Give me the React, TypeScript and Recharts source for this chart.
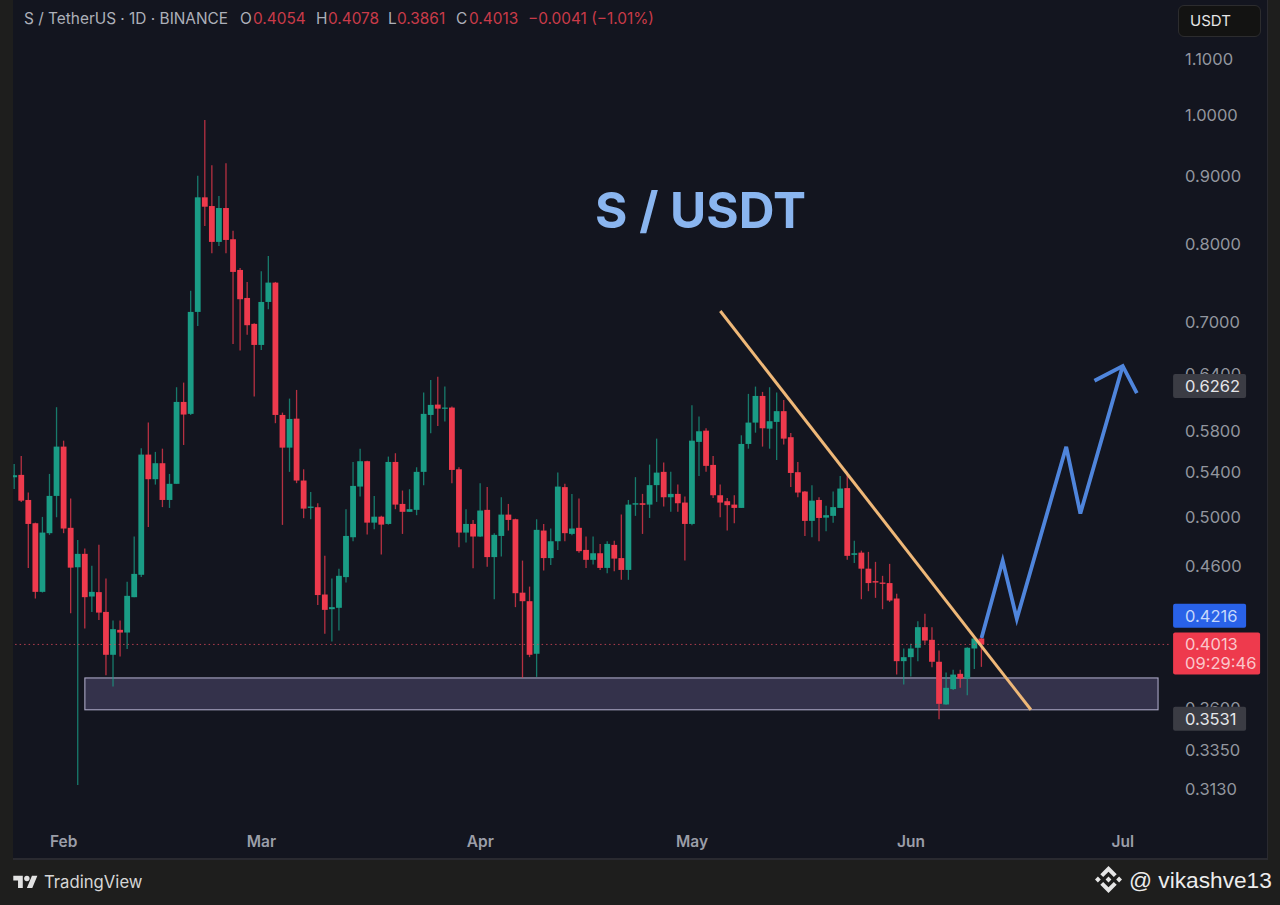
import React from 'react';
import { ComposedChart, Bar, Line, XAxis, YAxis, ReferenceArea, ReferenceLine } from 'recharts';

// daily candles, first one is 25 Jan
const opens = [
  0.5351, 0.5373, 0.5146, 0.4944, 0.4393, 0.4860, 0.5182, 0.5641, 0.4905, 0.4583,
  0.4690, 0.4358, 0.4391, 0.4244, 0.3942, 0.4115, 0.4096, 0.4353, 0.4524, 0.5564,
  0.5333, 0.5482, 0.5146, 0.5291, 0.6092, 0.5968, 0.7113, 0.8664, 0.8535, 0.8024,
  0.8506, 0.8061, 0.7646, 0.7286, 0.6968, 0.6720, 0.7236, 0.7481, 0.5957, 0.5631,
  0.5919, 0.5321, 0.5076, 0.5082, 0.4373, 0.4264, 0.4274, 0.4506, 0.4826, 0.5266,
  0.5501, 0.4949, 0.5000, 0.4938, 0.5494, 0.5111, 0.5042, 0.5059, 0.5401, 0.5957,
  0.6064, 0.6027, 0.6033, 0.5425, 0.4865, 0.4938, 0.4832, 0.5059, 0.4664, 0.4837,
  0.5018, 0.4978, 0.4387, 0.4323, 0.3949, 0.4882, 0.4656, 0.4793, 0.5261, 0.4854,
  0.4905, 0.4722, 0.4642, 0.4695, 0.4578, 0.4763, 0.4656, 0.4562, 0.5105, 0.5117,
  0.5105, 0.5279, 0.5401, 0.5170, 0.5200, 0.5123, 0.4938, 0.5687, 0.5798, 0.5466,
  0.5188, 0.5135, 0.5105, 0.5076, 0.5667, 0.5879, 0.6155, 0.5818, 0.5886, 0.5996,
  0.5733, 0.5398, 0.5221, 0.4964, 0.5146, 0.4992, 0.5007, 0.5076, 0.5252, 0.4682,
  0.4700, 0.4572, 0.4475, 0.4464, 0.4460, 0.4343, 0.3899, 0.3926, 0.3990, 0.4134,
  0.4045, 0.3895, 0.3619, 0.3716, 0.3815, 0.3784, 0.3985, 0.4054,
];
const closes = [
  0.5370, 0.5140, 0.4938, 0.4393, 0.4865, 0.5182, 0.5641, 0.4899, 0.4580, 0.4690,
  0.4353, 0.4393, 0.4239, 0.3942, 0.4120, 0.4096, 0.4363, 0.4531, 0.5564, 0.5333,
  0.5482, 0.5146, 0.5291, 0.6092, 0.5961, 0.7113, 0.8664, 0.8525, 0.8024, 0.8506,
  0.8051, 0.7620, 0.7270, 0.6952, 0.6720, 0.7236, 0.7481, 0.5957, 0.5631, 0.5916,
  0.5321, 0.5070, 0.5088, 0.4369, 0.4259, 0.4279, 0.4516, 0.4837, 0.5272, 0.5501,
  0.4949, 0.5000, 0.4932, 0.5494, 0.5105, 0.5042, 0.5065, 0.5401, 0.5968, 0.6061,
  0.6022, 0.6033, 0.5419, 0.4865, 0.4938, 0.4832, 0.5053, 0.4664, 0.4846, 0.5018,
  0.4972, 0.4383, 0.4323, 0.3942, 0.4888, 0.4656, 0.4793, 0.5266, 0.4860, 0.4899,
  0.4712, 0.4642, 0.4695, 0.4578, 0.4771, 0.4652, 0.4562, 0.5105, 0.5117, 0.5103,
  0.5279, 0.5394, 0.5170, 0.5200, 0.5117, 0.4938, 0.5699, 0.5792, 0.5457, 0.5188,
  0.5123, 0.5100, 0.5076, 0.5667, 0.5879, 0.6155, 0.5822, 0.5893, 0.5996, 0.5719,
  0.5391, 0.5212, 0.4964, 0.5140, 0.4989, 0.5013, 0.5083, 0.5248, 0.4674, 0.4695,
  0.4572, 0.4460, 0.4464, 0.4454, 0.4328, 0.3899, 0.3926, 0.3985, 0.4134, 0.4040,
  0.3895, 0.3623, 0.3724, 0.3810, 0.3784, 0.3990, 0.4054, 0.4013,
];
const highs = [
  0.5475, 0.5551, 0.5212, 0.4949, 0.4998, 0.5382, 0.6037, 0.5699, 0.5158, 0.4804,
  0.4733, 0.4596, 0.4765, 0.4495, 0.4181, 0.4181, 0.4470, 0.4832, 0.5625, 0.5879,
  0.5590, 0.5621, 0.5382, 0.6248, 0.6298, 0.7378, 0.8992, 0.9897, 0.9155, 0.8684,
  0.9187, 0.8181, 0.7673, 0.7490, 0.6976, 0.7629, 0.7833, 0.7490, 0.5981, 0.6127,
  0.6219, 0.5425, 0.5218, 0.5117, 0.4674, 0.4495, 0.4572, 0.5065, 0.5494, 0.5621,
  0.5506, 0.5182, 0.5007, 0.5545, 0.5577, 0.5230, 0.5242, 0.5444, 0.6191, 0.6327,
  0.6363, 0.6255, 0.6043, 0.5444, 0.5065, 0.4972, 0.5297, 0.5261, 0.4860, 0.5170,
  0.5111, 0.4983, 0.4636, 0.4433, 0.4978, 0.4938, 0.4899, 0.5394, 0.5291, 0.5200,
  0.5158, 0.4832, 0.4832, 0.4771, 0.4793, 0.4798, 0.5018, 0.5146, 0.5352, 0.5200,
  0.5469, 0.5719, 0.5488, 0.5401, 0.5284, 0.5176, 0.6058, 0.5940, 0.5822, 0.5551,
  0.5284, 0.5164, 0.5188, 0.5752, 0.6177, 0.6255, 0.6198, 0.6248, 0.6191, 0.6113,
  0.5775, 0.5494, 0.5227, 0.5279, 0.5170, 0.5094, 0.5221, 0.5363, 0.5403, 0.4798,
  0.4716, 0.4706, 0.4626, 0.4516, 0.4610, 0.4378, 0.3985, 0.4017, 0.4177, 0.4230,
  0.4134, 0.3971, 0.3823, 0.3841, 0.3841, 0.3993, 0.4064, 0.4078,
];
const lows = [
  0.5245, 0.5129, 0.4578, 0.4343, 0.4388, 0.4846, 0.4995, 0.4860, 0.4235, 0.3151,
  0.4124, 0.4244, 0.4186, 0.3806, 0.3732, 0.3930, 0.3981, 0.4353, 0.4506, 0.4911,
  0.5284, 0.5083, 0.5076, 0.5291, 0.5657, 0.5957, 0.6944, 0.8248, 0.7869, 0.7969,
  0.7869, 0.6732, 0.6655, 0.6840, 0.6148, 0.6663, 0.7146, 0.5873, 0.4930, 0.5401,
  0.5297, 0.4987, 0.4978, 0.4294, 0.4087, 0.4033, 0.4110, 0.4464, 0.4793, 0.5176,
  0.4849, 0.4894, 0.4684, 0.4932, 0.5065, 0.4854, 0.5042, 0.5013, 0.5279, 0.5772,
  0.5845, 0.5889, 0.5297, 0.4744, 0.4782, 0.4576, 0.4829, 0.4588, 0.4338, 0.4668,
  0.4882, 0.4279, 0.3789, 0.3926, 0.3795, 0.4557, 0.4600, 0.4722, 0.4793, 0.4843,
  0.4700, 0.4578, 0.4604, 0.4562, 0.4537, 0.4552, 0.4485, 0.4485, 0.5007, 0.4854,
  0.4989, 0.5129, 0.5088, 0.5042, 0.5042, 0.4636, 0.4927, 0.5363, 0.5401, 0.5164,
  0.4995, 0.4882, 0.4944, 0.5076, 0.5621, 0.5778, 0.5641, 0.5621, 0.5513, 0.5661,
  0.5263, 0.5170, 0.4837, 0.4826, 0.4793, 0.4877, 0.4949, 0.5076, 0.4642, 0.4616,
  0.4338, 0.4398, 0.4348, 0.4264, 0.4318, 0.3810, 0.3745, 0.3797, 0.3899, 0.4017,
  0.3859, 0.3528, 0.3617, 0.3711, 0.3724, 0.3677, 0.3846, 0.3861,
];

const TOTAL_DAYS = 164;

// drawn annotations, day index + price
const trendDays = [100, 144];
const trendPrices = [0.7124, 0.3586];
const arrowDays = [137, 140, 142, 149, 151, 157];
const arrowPrices = [0.4058, 0.4634, 0.4194, 0.5639, 0.5027, 0.6481];
const headDays = [153, 157, 159];
const headPrices = [0.6318, 0.6481, 0.6186];

const zoneTop = 0.3788;
const zoneBottom = 0.3586;
const zoneStartDay = 10;
const zoneEndDay = 162;
const lastPrice = 0.4013;

const monthDays = [7, 35, 66, 96, 127, 157];
const monthLabels = ['Feb', 'Mar', 'Apr', 'May', 'Jun', 'Jul'];
const priceTicks = [1.1, 1.0, 0.9, 0.8, 0.7, 0.64, 0.6262, 0.58, 0.54, 0.5, 0.46, 0.4216, 0.4013, 0.36, 0.3531, 0.335, 0.313];

const GREEN = '#1a9c85';
const RED = '#ee3a4d';
const FONT = 'Inter, Roboto, sans-serif';

const pick = (days: number[], prices: number[], day: number) => {
  const idx = days.indexOf(day);
  return idx >= 0 ? prices[idx] : null;
};

const rows = Array.from({ length: TOTAL_DAYS }, (_, day) => ({
  day,
  open: opens[day],
  close: closes[day],
  high: highs[day],
  low: lows[day],
  range: day < opens.length ? [lows[day], highs[day]] : null,
  trend: pick(trendDays, trendPrices, day),
  arrow: pick(arrowDays, arrowPrices, day),
  head: pick(headDays, headPrices, day),
}));

const Candle = (props: any) => {
  const { x, y, width, height, payload } = props;
  if (!payload || !payload.range) return null;
  const { open, close, high, low } = payload;
  const color = close >= open ? GREEN : RED;
  const cx = x + width / 2;
  const span = Math.log(high / low) || 1;
  const yAt = (v: number) => y + (height * Math.log(high / v)) / span;
  const top = yAt(Math.max(open, close));
  const bottom = yAt(Math.min(open, close));
  return (
    <g>
      <line x1={cx} x2={cx} y1={y} y2={y + height} stroke={color} strokeWidth={1.3} strokeOpacity={0.75} />
      <rect x={cx - 2.9} y={top} width={5.8} height={Math.max(bottom - top, 1.2)} fill={color} />
    </g>
  );
};

// area runs band edge to band edge, the zone starts on the candle centres
const Zone = (props: any) => {
  const { x, y, width, height } = props;
  return (
    <rect x={x + 3.5} y={y} width={width - 7} height={height} fill="#8f80c4" fillOpacity={0.27} stroke="#aaa6c4" strokeWidth={1.1} />
  );
};

const badges: Record<string, { bg: string; color: string; w: number }> = {
  '0.6262': { bg: '#3b3c44', color: '#e4e5e8', w: 73 },
  '0.4216': { bg: '#2962e8', color: '#c5d8fb', w: 73 },
  '0.4013': { bg: '#ee3a4d', color: '#fbc6cb', w: 87 },
  '0.3531': { bg: '#3b3c44', color: '#e4e5e8', w: 73 },
};

const PriceTick = (props: any) => {
  const { x, y, payload } = props;
  const label = Number(payload.value).toFixed(4);
  const badge = badges[label];
  const left = x + 4.5;
  const textProps = { x: left + 12, fontFamily: FONT, fontSize: 16.5 };
  if (!badge) {
    return (
      <text {...textProps} y={y + 6.5} fill="#92959e">
        {label}
      </text>
    );
  }
  const isLast = label === '0.4013';
  return (
    <g>
      <rect x={left} y={y - 12} width={badge.w} height={isLast ? 42 : 24} rx={2} fill={badge.bg} />
      <text {...textProps} y={y + 6} fill={badge.color}>
        {label}
      </text>
      {isLast && (
        <text {...textProps} y={y + 25} fill={badge.color}>
          09:29:46
        </text>
      )}
    </g>
  );
};

const MonthTick = (props: any) => {
  const { x, y, payload } = props;
  return (
    <text x={x} y={y} textAnchor="middle" fontFamily={FONT} fontSize={15.5} fontWeight={600} fill="#9b9ea8">
      {monthLabels[monthDays.indexOf(payload.value)]}
    </text>
  );
};

const headerParts: [string, number, string][] = [
  ['S / TetherUS · 1D · BINANCE', 24, '#adb0b9'],
  ['O', 240, '#adb0b9'],
  ['0.4054', 253, '#c93b49'],
  ['H', 316, '#adb0b9'],
  ['0.4078', 328, '#c93b49'],
  ['L', 388, '#adb0b9'],
  ['0.3861', 397, '#c93b49'],
  ['C', 456, '#adb0b9'],
  ['0.4013', 469, '#c93b49'],
  ['−0.0041 (−1.01%)', 528, '#c93b49'],
];

const abs = (left: number, top: number): React.CSSProperties => ({ position: 'absolute', left, top, whiteSpace: 'nowrap' });

export default function App() {
  return (
    <div style={{ position: 'absolute', left: 0, top: 0, width: 1280, height: 905, background: '#1e1e1d', overflow: 'hidden', fontFamily: FONT }}>
      <div style={{ position: 'absolute', left: 13, top: 0, width: 1254, height: 858, background: '#13151f', borderBottom: '2px solid #2a2a30', borderRight: '1px solid #2a2a30' }} />

      <div style={{ position: 'absolute', left: 0, top: 0 }}>
        <ComposedChart width={1280} height={905} data={rows} margin={{ top: 30, right: 0, bottom: 0, left: 10.77 }} barCategoryGap="20%">
          <XAxis
            dataKey="day"
            ticks={monthDays}
            interval={0}
            height={82}
            axisLine={false}
            tickLine={false}
            tickSize={0}
            tickMargin={24}
            tick={<MonthTick />}
          />
          <YAxis
            orientation="right"
            scale="log"
            domain={[0.2951, 1.1556]}
            allowDataOverflow
            ticks={priceTicks}
            interval={0}
            width={111.4}
            axisLine={false}
            tickLine={false}
            tickSize={0}
            tickMargin={0}
            tick={<PriceTick />}
          />
          <ReferenceLine y={lastPrice} stroke="#d8485a" strokeDasharray="1.5 3" strokeOpacity={0.8} />
          <Bar dataKey="range" shape={<Candle />} isAnimationActive={false} />
          <ReferenceArea x1={zoneStartDay} x2={zoneEndDay} y1={zoneBottom} y2={zoneTop} shape={<Zone />} />
          <Line dataKey="trend" stroke="#efb878" strokeWidth={3} dot={false} connectNulls isAnimationActive={false} />
          <Line dataKey="arrow" stroke="#4f85dc" strokeWidth={3.8} dot={false} connectNulls isAnimationActive={false} />
          <Line dataKey="head" stroke="#4f85dc" strokeWidth={3.8} dot={false} connectNulls isAnimationActive={false} />
        </ComposedChart>
      </div>

      <div style={{ position: 'absolute', left: 0, top: 0, width: 13, height: 905, background: '#1e1e1d' }} />

      {headerParts.map(([text, left, color]) => (
        <div key={text + left} style={{ ...abs(left, 10), fontSize: 15.4, lineHeight: '18px', color }}>
          {text}
        </div>
      ))}

      <div style={{ ...abs(595, 180), fontFamily: 'Inter, sans-serif', fontSize: 49.5, lineHeight: '60px', fontWeight: 700, color: '#8ab5ef' }}>S / USDT</div>

      <div style={{ position: 'absolute', left: 1178, top: 5, width: 83, height: 32, boxSizing: 'border-box', background: '#131312', border: '1px solid #2c2c2e', borderRadius: 6, color: '#e6e6e6', fontSize: 15, lineHeight: '30px', paddingLeft: 11 }}>
        USDT
      </div>

      <svg style={{ position: 'absolute', left: 13, top: 873 }} width={25} height={19} viewBox="0 0 36 28">
        <path d="M14 22H7V11H0V4h14v18zM28 22h-8l7.5-18h8L28 22z" fill="#e2e2e2" />
        <circle cx={20} cy={8} r={4} fill="#e2e2e2" />
      </svg>
      <div style={{ ...abs(44, 871), fontSize: 16.7, lineHeight: '22px', color: '#d6d6d6' }}>TradingView</div>

      <svg style={{ position: 'absolute', left: 1095, top: 866 }} width={27} height={27} viewBox="0 0 28 28">
        <path
          d="M14 11L17 14L14 17L11 14ZM3 11L6 14L3 17L0 14ZM25 11L28 14L25 17L22 14ZM14 0L22.5 8.5L19.5 11.5L14 6L8.5 11.5L5.5 8.5ZM14 28L22.5 19.5L19.5 16.5L14 22L8.5 16.5L5.5 19.5Z"
          fill="#e6e6e6"
        />
      </svg>
      <div style={{ ...abs(1129, 866), fontFamily: 'Liberation Sans, sans-serif', fontSize: 22.7, lineHeight: '28px', color: '#ececec' }}>@ vikashve13</div>
    </div>
  );
}
